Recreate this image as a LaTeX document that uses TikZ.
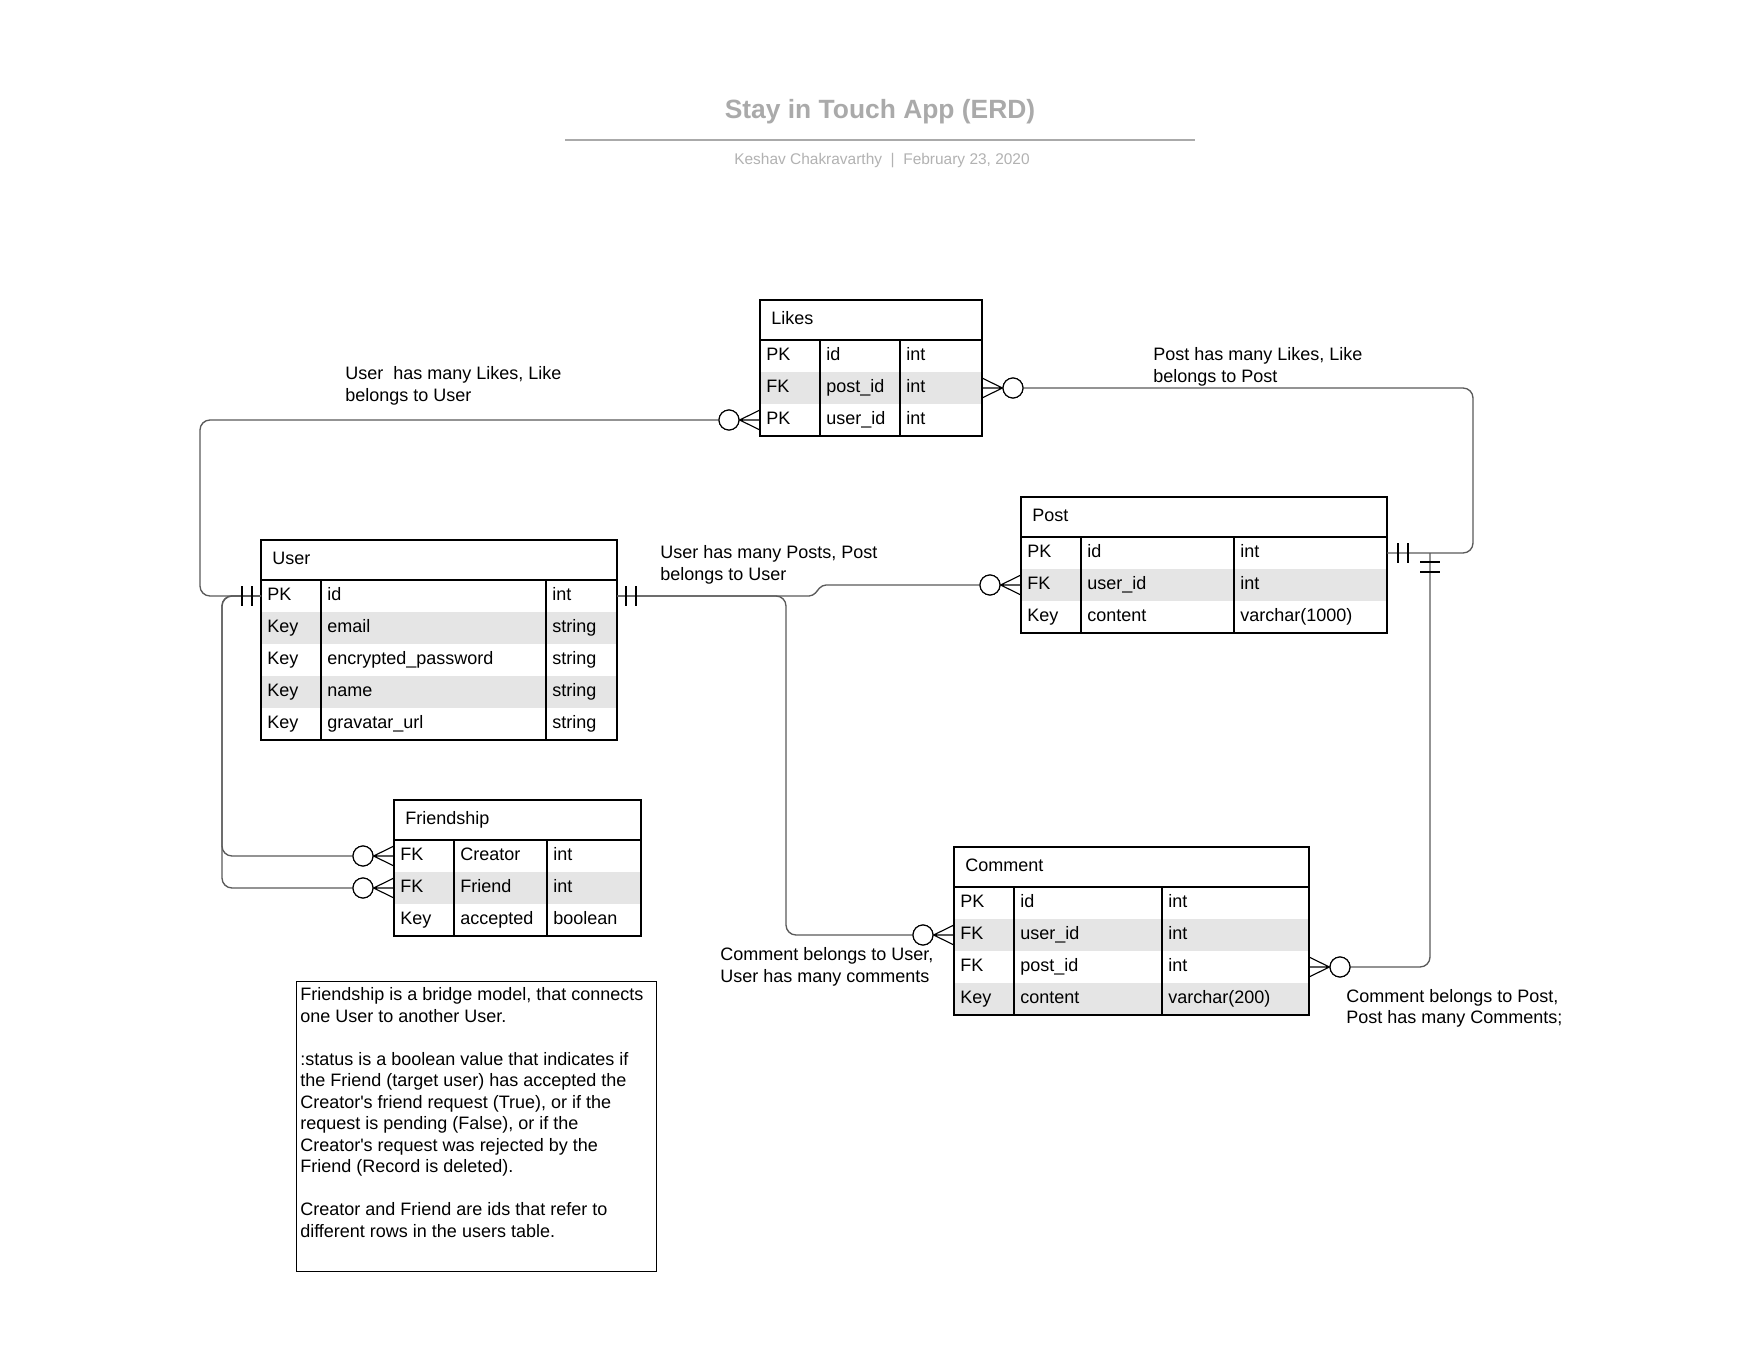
\documentclass[tikz,border=0pt]{standalone}
\usepackage{fontspec}
\setmainfont{Liberation Sans}
\usetikzlibrary{calc}
\definecolor{shade}{RGB}{229,229,229}
\definecolor{conncol}{RGB}{90,90,90}
\definecolor{titlegray}{RGB}{170,170,170}
\definecolor{subgray}{RGB}{178,178,178}
\newcommand{\txtfont}{\fontsize{13.5}{16.125}\selectfont}
\newcommand{\erSet}[5]{\def\erL{#1}\def\erC{#2}\def\erD{#3}\def\erR{#4}\def\erT{#5}\pgfmathsetmacro\erW{(#4-#1)*0.75}}
\newcommand{\erRow}[6]{%
  \pgfmathsetmacro\erY{\erT+40+32*#2}%
  \node[rowbox, fill=#3, minimum width=\erW pt] (#1) at (\erL,\erY) {};%
  \node[cell] at (\erL+6,\erY+20.5) {#4};%
  \node[cell] at (\erC+6,\erY+20.5) {#5};%
  \node[cell] at (\erD+6,\erY+20.5) {#6};%
}
\newcommand{\erFrame}[3]{%
  \pgfmathsetmacro\erB{\erT+40+32*#3}%
  \node[headbox, minimum width=\erW pt] (#1) at (\erL,\erT) {};%
  \node[cell] at (\erL+11,\erT+24.5) {#2};%
  \draw[tline] (\erL,\erT) rectangle (\erR,\erB);%
  \draw[tline] (\erL,\erT+40) -- (\erR,\erT+40);%
  \draw[tline] (\erC,\erT+40) -- (\erC,\erB);%
  \draw[tline] (\erD,\erT+40) -- (\erD,\erB);%
}
\newcommand{\crowfoot}[2]{%
  \draw[foot] ($(#1)+(0,-10)$) -- (#2) -- ($(#1)+(0,10)$) (#1) -- (#2);%
}
\tikzset{
 rowbox/.style={draw=none, inner sep=0pt, outer sep=0pt, minimum height=24pt, anchor=north west},
 headbox/.style={draw=none, inner sep=0pt, outer sep=0pt, minimum height=30pt, anchor=north west},
 cell/.style={inner sep=0pt, anchor=base west, font=\txtfont},
 tline/.style={draw=black, line width=0.95pt},
 conn/.style={draw=conncol, line width=1pt, rounded corners=7.5pt},
 zcirc/.style={circle, draw=black, fill=white, line width=0.85pt, minimum size=15pt, inner sep=0pt},
 foot/.style={draw=black, line width=0.85pt},
 barline/.style={draw=black, line width=0.85pt},
 lbl/.style={inner sep=0pt, anchor=north west, align=left, font=\txtfont},
}
\begin{document}
\begin{tikzpicture}[x=0.75pt,y=-0.75pt]
\useasboundingbox (0,0) rectangle (1758,1358);
\fill[white] (0,0) rectangle (1758,1358);

% title block
\node[font=\fontsize{19.8}{23}\selectfont\bfseries, text=titlegray, inner sep=0pt] (title) at (880,111.5) {Stay in Touch App (ERD)};
\coordinate (ruleL) at (565,140);
\coordinate (ruleR) at (1195,140);
\draw[titlegray, line width=1.5pt] (ruleL) -- (ruleR);
\node[font=\fontsize{11.6}{14}\selectfont, text=subgray, inner sep=0pt] (subtitle) at (882,161) {Keshav Chakravarthy\ \ |\ \ February 23, 2020};

% Likes
\erSet{760}{820}{900}{982}{300}
\erRow{likes-id}{0}{white}{PK}{id}{int}
\erRow{likes-pid}{1}{shade}{FK}{post\_id}{int}
\erRow{likes-uid}{2}{white}{PK}{user\_id}{int}
\erFrame{likes}{Likes}{3}

% User
\erSet{261}{321}{546}{617}{540}
\erRow{user-id}{0}{white}{PK}{id}{int}
\erRow{user-email}{1}{shade}{Key}{email}{string}
\erRow{user-pw}{2}{white}{Key}{encrypted\_password}{string}
\erRow{user-name}{3}{shade}{Key}{name}{string}
\erRow{user-grav}{4}{white}{Key}{gravatar\_url}{string}
\erFrame{user}{User}{5}

% Post
\erSet{1021}{1081}{1234}{1387}{497}
\erRow{post-id}{0}{white}{PK}{id}{int}
\erRow{post-uid}{1}{shade}{FK}{user\_id}{int}
\erRow{post-content}{2}{white}{Key}{content}{varchar(1000)}
\erFrame{post}{Post}{3}

% Friendship
\erSet{394}{454}{547}{641}{800}
\erRow{fr-creator}{0}{white}{FK}{Creator}{int}
\erRow{fr-friend}{1}{shade}{FK}{Friend}{int}
\erRow{fr-acc}{2}{white}{Key}{accepted}{boolean}
\erFrame{friendship}{Friendship}{3}

% Comment
\erSet{954}{1014}{1162}{1309}{847}
\erRow{cm-id}{0}{white}{PK}{id}{int}
\erRow{cm-uid}{1}{shade}{FK}{user\_id}{int}
\erRow{cm-pid}{2}{white}{FK}{post\_id}{int}
\erRow{cm-content}{3}{shade}{Key}{content}{varchar(200)}
\erFrame{comment}{Comment}{4}

% circle end markers
\node[zcirc] (cLu) at ($(likes-uid.west)+(-31,0)$) {};
\node[zcirc] (cLp) at ($(likes-pid.east)+(31,0)$) {};
\node[zcirc] (cPu) at ($(post-uid.west)+(-31,0)$) {};
\node[zcirc] (cFc) at ($(fr-creator.west)+(-31,0)$) {};
\node[zcirc] (cFf) at ($(fr-friend.west)+(-31,0)$) {};
\node[zcirc] (cCu) at ($(cm-uid.west)+(-31,0)$) {};
\node[zcirc] (cCp) at ($(cm-pid.east)+(31,0)$) {};

% junction columns
\coordinate (jL) at (200,0);
\coordinate (jF) at (222,0);
\coordinate (jC) at (786,0);
\coordinate (jP) at (1473,0);
\coordinate (jQ) at (1430,0);
\coordinate (jQtop) at (jQ |- post-id.east);

% connectors
\draw[conn] (cLu.west) -- (cLu.west -| jL) -- (jL |- user-id.west) -- (user-id.west);
\draw[conn] (user-id.west) -- (jF |- user-id.west) -- (jF |- cFc.west) -- (cFc.west);
\draw[conn] (user-id.west) -- (jF |- user-id.west) -- (jF |- cFf.west) -- (cFf.west);
\draw[conn, rounded corners=3pt] (user-id.east) -- (813,596) -- (822,585) -- (cPu.west);
\draw[conn] (user-id.east) -- (jC |- user-id.east) -- (jC |- cCu.west) -- (cCu.west);
\draw[conn] (cLp.east) -- (cLp.east -| jP) -- (jP |- post-id.east) -- (post-id.east);
\draw[conn] (cCp.east) -- (cCp.east -| jQ) -- (jQtop);

% redraw circles on top
\node[zcirc] at (cLu) {};
\node[zcirc] at (cLp) {};
\node[zcirc] at (cPu) {};
\node[zcirc] at (cFc) {};
\node[zcirc] at (cFf) {};
\node[zcirc] at (cCu) {};
\node[zcirc] at (cCp) {};

% crow's feet
\crowfoot{likes-uid.west}{cLu.east}
\crowfoot{likes-pid.east}{cLp.west}
\crowfoot{post-uid.west}{cPu.east}
\crowfoot{fr-creator.west}{cFc.east}
\crowfoot{fr-friend.west}{cFf.east}
\crowfoot{cm-uid.west}{cCu.east}
\crowfoot{cm-pid.east}{cCp.west}

% one-and-only-one bars
\draw[barline] ($(user-id.west)+(-9,-10)$) -- ++(0,20) ($(user-id.west)+(-19,-10)$) -- ++(0,20);
\draw[barline] ($(user-id.east)+(9,-10)$) -- ++(0,20) ($(user-id.east)+(19,-10)$) -- ++(0,20);
\draw[barline] ($(post-id.east)+(11,-10)$) -- ++(0,20) ($(post-id.east)+(21,-10)$) -- ++(0,20);
\draw[barline] ($(jQtop)+(-10,9)$) -- ++(20,0) ($(jQtop)+(-10,19)$) -- ++(20,0);

% relationship labels
\node[lbl] (lbl-ul) at (345,366.5) {User\ \ has many Likes, Like\\belongs to User};
\node[lbl] (lbl-pl) at (1153,347.5) {Post has many Likes, Like\\belongs to Post};
\node[lbl] (lbl-up) at (660,545.5) {User has many Posts, Post\\belongs to User};
\node[lbl] (lbl-cu) at (720,947.5) {Comment belongs to User,\\User has many comments};
\node[lbl] (lbl-cp) at (1346,989) {Comment belongs to Post,\\Post has many Comments;};

% note
\node[draw=black, line width=0.95pt, minimum width=270pt, minimum height=217.5pt, inner sep=0pt, anchor=north west] (note) at (296,981) {};
\node[lbl] (notetext) at (300,987.5) {Friendship is a bridge model, that connects\\one User to another User.\\[16.125pt]:status is a boolean value that indicates if\\the Friend (target user) has accepted the\\Creator\textquotesingle s friend request (True), or if the\\request is pending (False), or if the\\Creator\textquotesingle s request was rejected by the\\Friend (Record is deleted).\\[16.125pt]Creator and Friend are ids that refer to\\different rows in the users table.};
\end{tikzpicture}
\end{document}
